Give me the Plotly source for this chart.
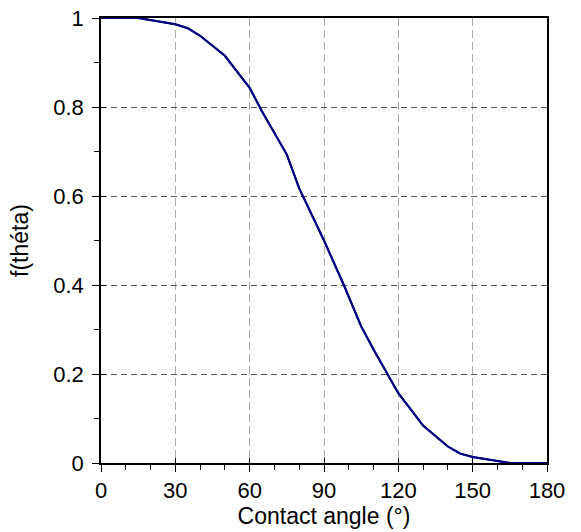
import plotly.graph_objects as go

angle = [0, 15, 30, 35, 40, 50, 60, 65, 75, 80, 90, 98, 105, 110, 120, 130, 140, 145, 150, 165, 180]
f_theta = [1.0, 1.0, 0.986, 0.977, 0.960, 0.915, 0.843, 0.79, 0.693, 0.617, 0.50, 0.40, 0.307, 0.255, 0.157, 0.084, 0.037, 0.021, 0.0135, 0.0, 0.0]

x_ticks = [0, 30, 60, 90, 120, 150, 180]
y_ticks = [0, 0.2, 0.4, 0.6, 0.8, 1]
y_tick_text = ["0", "0.2", "0.4", "0.6", "0.8", "1"]

tick_font = dict(family="Liberation Sans, Arial, sans-serif", size=22, color="black")
title_font = dict(family="Liberation Sans, Arial, sans-serif", size=23, color="black")

fig = go.Figure()
fig.add_trace(go.Scatter(x=angle, y=f_theta, mode="lines",
                         line=dict(color="#000080", width=2), showlegend=False,
                         xaxis="x", yaxis="y"))
# same data on overlay axes that carry the inner half of the crossing major ticks
fig.add_trace(go.Scatter(x=angle, y=f_theta, mode="lines",
                         line=dict(color="#000080", width=2), showlegend=False,
                         hoverinfo="skip", xaxis="x2", yaxis="y2"))

fig.update_layout(
    width=581, height=532,
    margin=dict(l=101, r=34, t=18, b=69),
    paper_bgcolor="white", plot_bgcolor="white",
    font=tick_font,
    xaxis=dict(
        range=[0, 180], tickmode="array", tickvals=x_ticks,
        ticks="outside", ticklen=7, tickwidth=1, tickcolor="black",
        showline=True, linecolor="black", linewidth=1.5, mirror=True,
        showgrid=True, gridcolor="#aaaaaa", gridwidth=1, griddash="8px,4px",
        zeroline=False, automargin=False,
        minor=dict(dtick=10, ticks="outside", ticklen=5, tickcolor="black", showgrid=False),
        title=dict(text="Contact angle (°)", font=title_font, standoff=6),
        tickfont=tick_font,
    ),
    yaxis=dict(
        range=[0, 1], tickmode="array", tickvals=y_ticks, ticktext=y_tick_text,
        ticks="outside", ticklen=7, tickwidth=1, tickcolor="black",
        showline=True, linecolor="black", linewidth=1.5, mirror=True,
        showgrid=True, gridcolor="#555555", gridwidth=1, griddash="6px,4px",
        zeroline=False, automargin=False, ticklabelstandoff=4,
        minor=dict(dtick=0.1, ticks="outside", ticklen=5, tickcolor="black", showgrid=False),
        title=dict(text="f(théta)", font=title_font, standoff=18),
        tickfont=tick_font,
    ),
    xaxis2=dict(
        range=[0, 180], overlaying="x", anchor="y2", side="bottom",
        tickmode="array", tickvals=x_ticks, ticks="inside", ticklen=5,
        tickwidth=1, tickcolor="black", showticklabels=False,
        showline=False, showgrid=False, zeroline=False, automargin=False,
    ),
    yaxis2=dict(
        range=[0, 1], overlaying="y", anchor="x2", side="left",
        tickmode="array", tickvals=y_ticks, ticks="inside", ticklen=5,
        tickwidth=1, tickcolor="black", showticklabels=False,
        showline=False, showgrid=False, zeroline=False, automargin=False,
    ),
)

fig.write_html("out.html")
